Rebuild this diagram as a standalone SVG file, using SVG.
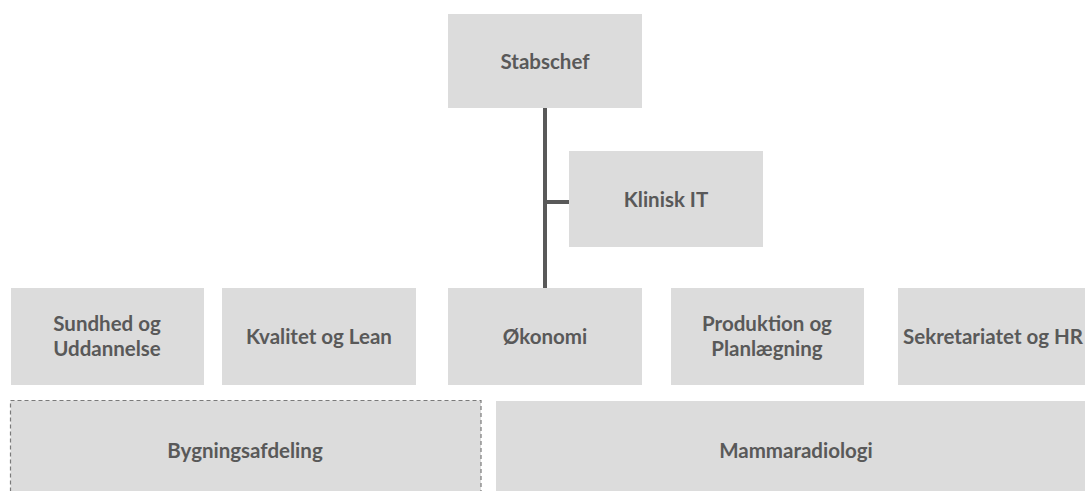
<svg xmlns="http://www.w3.org/2000/svg" width="1085" height="491" viewBox="0 0 1085 491">
<style>
.box{fill:#dcdcdc;}
.dash{fill:#dcdcdc;stroke:#7a7a7a;stroke-width:1.2;stroke-dasharray:4 3;}
.t{font-family:Lato,"Liberation Sans",sans-serif;font-weight:bold;font-size:20.5px;fill:#595959;text-anchor:middle;dominant-baseline:central;}
.c{stroke:#595959;stroke-width:4;fill:none;}
</style>
<rect width="1085" height="491" fill="#ffffff"/>
<g id="connectors">
<line class="c" x1="545" y1="108" x2="545" y2="288"/>
<line class="c" x1="545" y1="202" x2="569" y2="202"/>
</g>
<g id="stabschef"><rect class="box" x="448" y="14" width="194" height="94"/><text class="t" x="545" y="61">Stabschef</text></g>
<g id="klinisk-it"><rect class="box" x="569" y="151" width="194" height="96"/><text class="t" x="666" y="199">Klinisk IT</text></g>
<g id="sundhed"><rect class="box" x="11" y="288" width="193" height="97"/><text class="t" x="107" y="323">Sundhed og</text><text class="t" x="107" y="348">Uddannelse</text></g>
<g id="kvalitet"><rect class="box" x="222" y="288" width="194" height="97"/><text class="t" x="319" y="336">Kvalitet og Lean</text></g>
<g id="okonomi"><rect class="box" x="448" y="288" width="194" height="97"/><text class="t" x="545" y="336">Økonomi</text></g>
<g id="produktion"><rect class="box" x="671" y="288" width="193" height="97"/><text class="t" x="767" y="323">Produktion og</text><text class="t" x="767" y="348">Planlægning</text></g>
<g id="sekretariatet"><rect class="box" x="898" y="288" width="194" height="97"/><text class="t" x="993" y="336">Sekretariatet og HR</text></g>
<g id="bygningsafdeling"><rect class="dash" x="10.5" y="400.5" width="470.5" height="100"/><text class="t" x="245" y="450">Bygningsafdeling</text></g>
<g id="mammaradiologi"><rect class="box" x="496" y="401" width="600" height="100"/><text class="t" x="796" y="450">Mammaradiologi</text></g>
</svg>
